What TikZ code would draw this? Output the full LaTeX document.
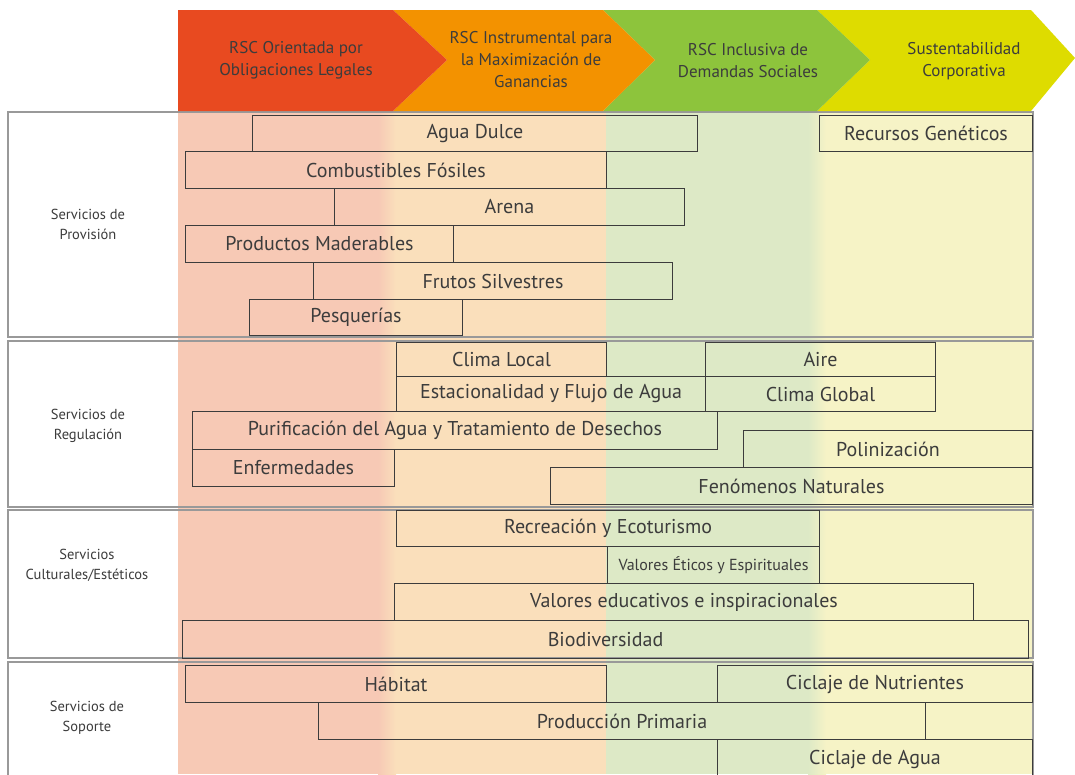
\documentclass[tikz,border=0pt]{standalone}
\usepackage{fontspec}
\setmainfont{PT Sans}
\definecolor{rojo}{RGB}{232,74,32}
\definecolor{naranja}{RGB}{243,146,0}
\definecolor{verde}{RGB}{141,196,60}
\definecolor{amarillo}{RGB}{222,220,0}
\definecolor{palerojo}{RGB}{247,201,181}
\definecolor{palenaranja}{RGB}{250,223,187}
\definecolor{paleverde}{RGB}{221,233,198}
\definecolor{paleamarillo}{RGB}{246,243,198}
\definecolor{tinta}{RGB}{60,60,60}
\begin{document}
\begin{tikzpicture}[x=1pt,y=-1pt,
		caja/.style={draw=tinta,line width=1pt,anchor=north west,inner sep=0pt,text=tinta,font=\fontsize{20}{22}\selectfont},
		marco/.style={draw=black!40,line width=1.2pt},
		grupo/.style={align=center,text=tinta,font=\fontsize{14.5}{20}\selectfont},
		encabezado/.style={align=center,text=tinta,font=\fontsize{17}{22}\selectfont}]
	\useasboundingbox (0,0) rectangle (1075,774);
	\fill[white] (0,0) rectangle (1075,774);
	\fill[palerojo] (178,111) rectangle (390,774);
	\fill[palenaranja] (390,111) rectangle (606,774);
	\fill[paleverde] (606,111) rectangle (818,774);
	\fill[paleamarillo] (818,111) rectangle (1033,774);
	\shade[left color=palerojo,right color=palenaranja] (378,111) rectangle (396,774);
	\shade[left color=paleverde,right color=paleamarillo] (808,111) rectangle (826,774);
	\draw[marco] (8,112) rectangle (1033,337);
	\draw[marco] (8,341) rectangle (1033,507);
	\draw[marco] (8,510) rectangle (1033,658);
	\draw[marco] (8,662) rectangle (1033,790);
	\fill[amarillo] (817,10) -- (1031,10) -- (1075,58) -- (1031,111) -- (817,111) -- (870,60) -- cycle;
	\fill[verde] (603,10) -- (817,10) -- (870,60) -- (817,111) -- (603,111) -- (655,60) -- cycle;
	\fill[naranja] (393,10) -- (603,10) -- (655,60) -- (603,111) -- (393,111) -- (447,60) -- cycle;
	\fill[rojo] (178,10) -- (393,10) -- (447,60) -- (393,111) -- (178,111) -- cycle;
	\node[encabezado] (legales) at (296,60) {RSC Orientada por\\Obligaciones Legales};
	\node[encabezado] (ganancias) at (531,60) {RSC Instrumental para\\la Maximización de\\Ganancias};
	\node[encabezado] (sociales) at (748,61) {RSC Inclusiva de\\Demandas Sociales};
	\node[encabezado] (corporativa) at (964,61) {Sustentabilidad\\Corporativa};
	\node[grupo] (provision) at (88,224) {Servicios de\\Provisión};
	\node[grupo] (regulacion) at (88,426) {Servicios de\\Regulación};
	\node[grupo] (culturales) at (87,565) {Servicios\\Culturales/Estéticos};
	\node[grupo] (soporte) at (87,718) {Servicios de\\Soporte};
	\node[caja,minimum width=445,minimum height=36] (agua) at (252,115) {Agua Dulce};
	\node[caja,minimum width=213,minimum height=36] (recursos) at (819,115) {Recursos Genéticos};
	\node[caja,minimum width=421,minimum height=37] (combustibles) at (185,151) {Combustibles Fósiles};
	\node[caja,minimum width=350,minimum height=37] (arena) at (334,188) {Arena};
	\node[caja,minimum width=268,minimum height=37] (maderables) at (185,225) {Productos Maderables};
	\node[caja,minimum width=359,minimum height=37] (frutos) at (313,262) {Frutos Silvestres};
	\node[caja,minimum width=213,minimum height=36] (pesquerias) at (249,299) {Pesquerías};
	\node[caja,minimum width=210,minimum height=34] (climalocal) at (396,342) {Clima Local};
	\node[caja,minimum width=230,minimum height=34] (aire) at (705,342) {Aire};
	\node[caja,minimum width=309,minimum height=35] (estacionalidad) at (396,376) {Estacionalidad y Flujo de Agua};
	\node[caja,minimum width=230,minimum height=35] (climaglobal) at (705,376) {Clima Global};
	\node[caja,minimum width=525,minimum height=38] (purificacion) at (192,411) {Purificación del Agua y Tratamiento de Desechos};
	\node[caja,minimum width=289,minimum height=37] (polinizacion) at (743,430) {Polinización};
	\node[caja,minimum width=202,minimum height=37] (enfermedades) at (192,449) {Enfermedades};
	\node[caja,minimum width=482,minimum height=37] (fenomenos) at (550,467) {Fenómenos Naturales};
	\node[caja,minimum width=423,minimum height=36] (recreacion) at (396,510) {Recreación y Ecoturismo};
	\node[caja,minimum width=212,minimum height=37,font=\fontsize{16}{18}\selectfont] (eticos) at (607,546) {Valores Éticos y Espirituales};
	\node[caja,minimum width=579,minimum height=37] (educativos) at (394,583) {Valores educativos e inspiracionales};
	\node[caja,minimum width=846,minimum height=38] (biodiversidad) at (182,620) {Biodiversidad};
	\node[caja,minimum width=421,minimum height=37] (habitat) at (185,665) {Hábitat};
	\node[caja,minimum width=315,minimum height=37] (nutrientes) at (717,665) {Ciclaje de Nutrientes};
	\node[caja,minimum width=607,minimum height=37] (produccion) at (318,702) {Producción Primaria};
	\node[caja,minimum width=315,minimum height=40] (ciclajeagua) at (717,739) {Ciclaje de Agua};
\end{tikzpicture}
\end{document}
